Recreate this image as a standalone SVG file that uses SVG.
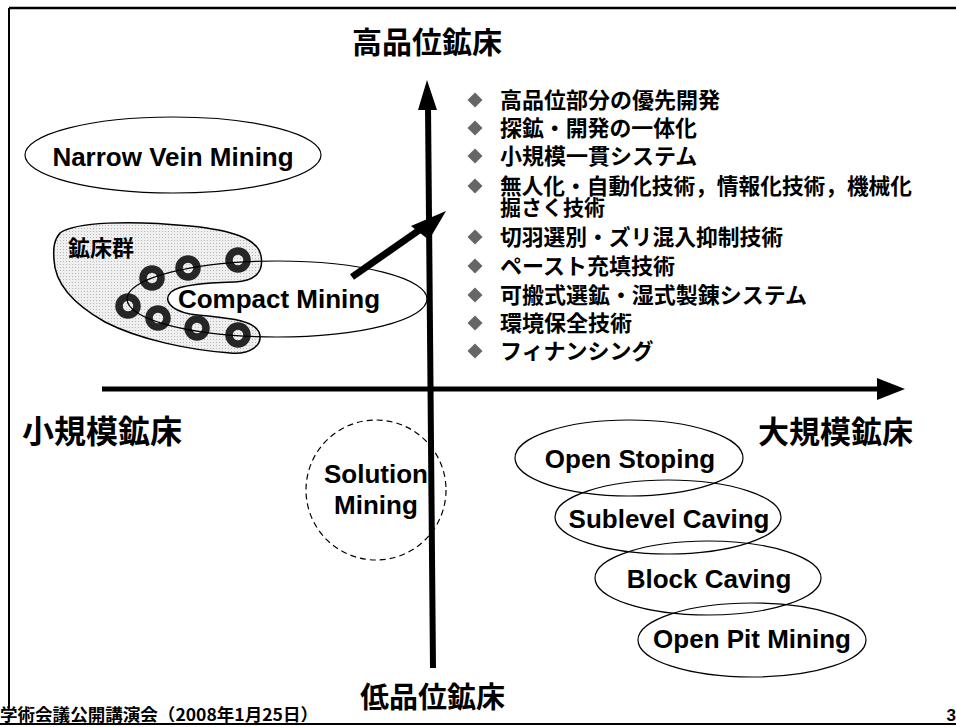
<svg xmlns="http://www.w3.org/2000/svg" width="956" height="727" viewBox="0 0 956 727">
<defs>
<style>
.en{font-family:"Liberation Sans",Arial,sans-serif;font-weight:bold;font-size:26px;fill:#000;text-anchor:middle}
.jp{font-family:"Noto Sans CJK JP","Noto Sans",sans-serif;font-weight:bold;fill:#000}
.ax{stroke:#000;fill:none}
.el{fill:none;stroke:#000;stroke-width:1.2}
.ring{fill:none;stroke:#262626;stroke-width:7.5}
.dia{fill:#666}
</style>
<pattern id="tone" width="3" height="3" patternUnits="userSpaceOnUse">
<rect width="3" height="3" fill="#efefef"/>
<rect width="1" height="1" fill="#b8b8b8"/>
</pattern>
</defs>
<rect width="956" height="727" fill="#fff"/>
<g id="frame">
<line x1="9" y1="8" x2="956" y2="8" stroke="#000" stroke-width="2.5"/>
<line x1="9" y1="8" x2="9" y2="708" stroke="#000" stroke-width="2"/>
<line x1="0" y1="724" x2="956" y2="724" stroke="#000" stroke-width="2"/>
</g>
<g id="connectors">
<line class="ax" x1="433" y1="668" x2="428" y2="105" stroke-width="6"/>
<polygon points="427,80 418,110 437,110" fill="#000"/>
<line class="ax" x1="102" y1="389" x2="880" y2="389" stroke-width="5"/>
<polygon points="905,389 877,378 877,400" fill="#000"/>
<line class="ax" x1="352" y1="277" x2="428" y2="224" stroke-width="7"/>
<polygon points="446,211 411,226 429,240" fill="#000"/>
</g>
<g id="title-high"><text class="jp" x="352" y="53" font-size="30">高品位鉱床</text></g>
<g id="title-low"><text class="jp" x="360" y="708" font-size="29">低品位鉱床</text></g>
<g id="title-small"><text class="jp" x="22" y="443" font-size="32">小規模鉱床</text></g>
<g id="title-large"><text class="jp" x="758" y="443" font-size="31">大規模鉱床</text></g>
<g id="bullets">
<path class="dia" d="M475,92.5l7.5,7.5l-7.5,7.5l-7.5,-7.5z"/>
<path class="dia" d="M475,120.5l7.5,7.5l-7.5,7.5l-7.5,-7.5z"/>
<path class="dia" d="M475,148.5l7.5,7.5l-7.5,7.5l-7.5,-7.5z"/>
<path class="dia" d="M475,178.5l7.5,7.5l-7.5,7.5l-7.5,-7.5z"/>
<path class="dia" d="M475,229.5l7.5,7.5l-7.5,7.5l-7.5,-7.5z"/>
<path class="dia" d="M475,258.5l7.5,7.5l-7.5,7.5l-7.5,-7.5z"/>
<path class="dia" d="M475,287.5l7.5,7.5l-7.5,7.5l-7.5,-7.5z"/>
<path class="dia" d="M475,315.5l7.5,7.5l-7.5,7.5l-7.5,-7.5z"/>
<path class="dia" d="M475,343.5l7.5,7.5l-7.5,7.5l-7.5,-7.5z"/>
<g class="jp" font-size="22">
<text x="500" y="108">高品位部分の優先開発</text>
<text x="500" y="136" textLength="197" lengthAdjust="spacingAndGlyphs">探鉱・開発の一体化</text>
<text x="500" y="164">小規模一貫システム</text>
<text x="500" y="194" textLength="412" lengthAdjust="spacingAndGlyphs">無人化・自動化技術，情報化技術，機械化</text>
<text x="500" y="215" font-size="21">掘さく技術</text>
<text x="500" y="245" textLength="283" lengthAdjust="spacingAndGlyphs">切羽選別・ズリ混入抑制技術</text>
<text x="500" y="274">ペースト充填技術</text>
<text x="500" y="303" textLength="307" lengthAdjust="spacingAndGlyphs">可搬式選鉱・湿式製錬システム</text>
<text x="500" y="331">環境保全技術</text>
<text x="500" y="359">フィナンシング</text>
</g>
</g>
<g id="narrow-vein">
<ellipse class="el" cx="173" cy="155" rx="148" ry="38"/>
<text class="en" x="173" y="166">Narrow Vein Mining</text>
</g>
<g id="ore-group">
<path d="M60,233 C75,222 130,220 190,226 C230,230 258,238 261,256 C264,272 255,281 235,282 C210,283 180,284 171,292 C163,300 170,310 190,314 C220,318 252,318 259,332 C264,345 250,355 230,353 C190,350 140,340 105,322 C75,305 55,285 54,260 C53,248 54,240 60,233 Z" fill="url(#tone)" stroke="#000" stroke-width="1.5"/>
<text class="jp" x="68" y="256" font-size="22" fill="#222">鉱床群</text>
<circle class="ring" cx="152" cy="278" r="9"/>
<circle class="ring" cx="188" cy="268" r="9"/>
<circle class="ring" cx="238" cy="260" r="9"/>
<circle class="ring" cx="128" cy="306" r="9"/>
<circle class="ring" cx="158" cy="318" r="9"/>
<circle class="ring" cx="197" cy="328" r="9"/>
<circle class="ring" cx="238" cy="335" r="9"/>
</g>
<g id="compact">
<ellipse class="el" cx="277" cy="299" rx="150" ry="38"/>
<text class="en" x="279" y="308">Compact Mining</text>
</g>
<g id="solution">
<circle cx="376" cy="490" r="70" fill="none" stroke="#000" stroke-width="1.2" stroke-dasharray="6,4"/>
<text class="en" x="376" y="483">Solution</text>
<text class="en" x="376" y="514">Mining</text>
</g>
<g id="open-stoping">
<ellipse class="el" cx="629" cy="458" rx="114" ry="38"/>
<text class="en" x="630" y="468">Open Stoping</text>
</g>
<g id="sublevel">
<ellipse class="el" cx="668" cy="517" rx="113" ry="37"/>
<text class="en" x="669" y="528">Sublevel Caving</text>
</g>
<g id="block">
<ellipse class="el" cx="708" cy="578" rx="113" ry="37"/>
<text class="en" x="709" y="588">Block Caving</text>
</g>
<g id="open-pit">
<ellipse class="el" cx="752" cy="640" rx="114" ry="37"/>
<text class="en" x="752" y="648">Open Pit Mining</text>
</g>
<g id="footer">
<text class="jp" x="0" y="721" font-size="17" textLength="318" lengthAdjust="spacingAndGlyphs">学術会議公開講演会（2008年1月25日）</text>
<text x="956" y="721" font-family="Liberation Sans,Arial,sans-serif" font-weight="bold" font-size="17" text-anchor="end">3</text>
</g>
</svg>
